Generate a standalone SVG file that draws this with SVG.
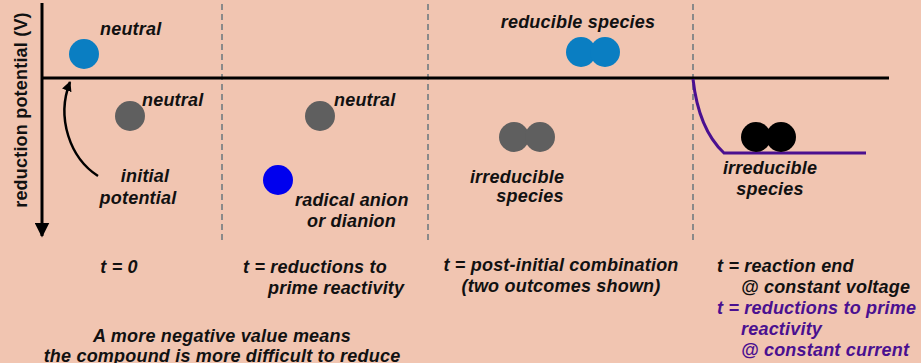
<svg xmlns="http://www.w3.org/2000/svg" width="921" height="363" viewBox="0 0 921 363">
<style>
text{font-family:"Liberation Sans",Arial,sans-serif;font-weight:bold;font-style:italic;font-size:18px;letter-spacing:0.2px;fill:#111}
.c{text-anchor:middle}
.p{fill:#4a1090}
.dash{stroke:#8a8a8a;stroke-width:2;stroke-dasharray:6,4;fill:none}
.ax{stroke:#000;stroke-width:3;fill:none}
</style>
<defs>
<marker id="ah" viewBox="0 0 10 10" refX="9" refY="5" markerWidth="5" markerHeight="5" orient="auto-start-reverse" markerUnits="strokeWidth"><path d="M0,0 L10,5 L0,10 z" fill="#000"/></marker>
<marker id="ah2" viewBox="0 0 10 10" refX="9" refY="5" markerWidth="4" markerHeight="4" orient="auto" markerUnits="strokeWidth"><path d="M0,0 L10,5 L0,10 z" fill="#000"/></marker>
</defs>
<rect width="921" height="363" fill="#f1c5b1"/>
<g id="connectors">
<line class="dash" x1="222" y1="4" x2="222" y2="242"/>
<line class="dash" x1="428" y1="4" x2="428" y2="242"/>
<line class="dash" x1="693" y1="4" x2="693" y2="242"/>
<line class="ax" x1="42" y1="3" x2="42" y2="236" marker-end="url(#ah)"/>
<line class="ax" x1="42" y1="78" x2="889" y2="78"/>
<path d="M98,176 C70,158 56,118 70,82" stroke="#000" stroke-width="2.5" fill="none" marker-end="url(#ah2)"/>
<path d="M693,79 C697,115 708,138 724,153 L866,153" stroke="#4a1090" stroke-width="3" fill="none"/>
</g>
<g id="axis-label"><text class="c" transform="translate(27,110) rotate(-90)" style="font-style:normal">reduction potential (V)</text></g>
<g id="t0-neutral-top"><circle cx="84" cy="54" r="15" fill="#0a7ec2"/><text x="100" y="35">neutral</text></g>
<g id="t0-neutral-bottom"><circle cx="130" cy="116" r="15" fill="#5f5f5f"/><text x="142" y="106">neutral</text></g>
<g id="t0-initial"><text class="c" x="145" y="182">initial</text><text class="c" x="138" y="204">potential</text></g>
<g id="t1-neutral"><circle cx="320" cy="116" r="15" fill="#5f5f5f"/><text x="334" y="106">neutral</text></g>
<g id="t1-radical"><circle cx="278" cy="180" r="15" fill="#0000ee"/><text x="295" y="206">radical anion</text><text x="307" y="227">or dianion</text></g>
<g id="t2-reducible"><text class="c" x="578" y="28">reducible species</text><circle cx="581" cy="52" r="15" fill="#0a7ec2"/><circle cx="605" cy="52" r="15" fill="#0a7ec2"/></g>
<g id="t2-irreducible"><circle cx="514" cy="137" r="15" fill="#5f5f5f"/><circle cx="540" cy="137" r="15" fill="#5f5f5f"/><text class="c" x="517" y="183">irreducible</text><text class="c" x="530" y="202">species</text></g>
<g id="t3-irreducible"><circle cx="756" cy="137" r="15" fill="#000"/><circle cx="781" cy="137" r="15" fill="#000"/><text class="c" x="770" y="174">irreducible</text><text class="c" x="770" y="195">species</text></g>
<g id="labels">
<text class="c" x="119" y="273">t = 0</text>
<text x="243" y="273">t = reductions to</text>
<text x="268" y="294">prime reactivity</text>
<text class="c" x="561" y="271">t = post-initial combination</text>
<text class="c" x="561" y="292">(two outcomes shown)</text>
<text x="717" y="272">t = reaction end</text>
<text x="741" y="293">@ constant voltage</text>
<text class="p" x="717" y="314">t = reductions to prime</text>
<text class="p" x="741" y="335">reactivity</text>
<text class="p" x="741" y="356">@ constant current</text>
<text class="c" x="222" y="342">A more negative value means</text>
<text class="c" x="222" y="362">the compound is more difficult to reduce</text>
</g>
</svg>
